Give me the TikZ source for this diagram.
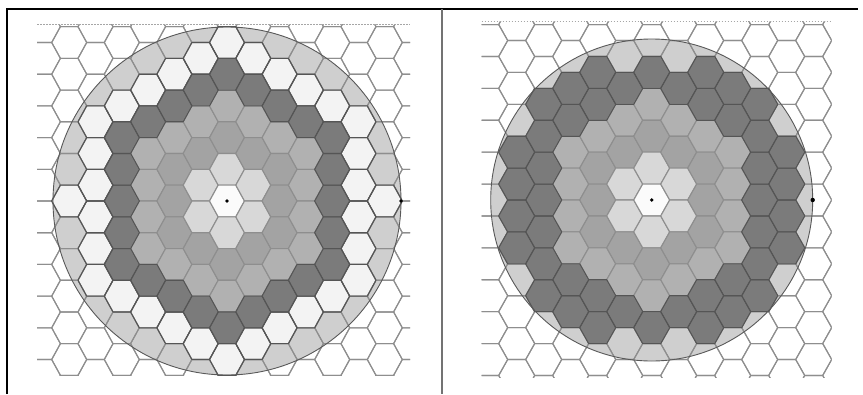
\documentclass[tikz,border=0pt]{standalone}
\usetikzlibrary{calc}
\definecolor{cz}{HTML}{FBFBFB}
\definecolor{cw}{HTML}{F3F3F3}
\definecolor{ca}{HTML}{D8D8D8}
\definecolor{cb}{HTML}{A3A3A3}
\definecolor{cc}{HTML}{B1B1B1}
\definecolor{cd}{HTML}{7B7B7B}
\definecolor{cg}{HTML}{CFCFCF}
\definecolor{hl}{HTML}{8E8E8E}
\definecolor{hd}{HTML}{555555}
\tikzset{
 hexline/.style={draw=hl, line width=1.1pt, line join=round},
 darkline/.style={draw=hd, line width=1.1pt, line join=round},
 circfill/.style={fill=cg},
 circline/.style={draw=black!65, line width=0.9pt},
 dotmark/.style={fill=black},
 topdots/.style={draw=black!35, line width=0.8pt, dash pattern=on 1.5pt off 1.5pt},
 frameline/.style={draw=black, line width=1.3pt},
 divline/.style={draw=black!55, line width=1.8pt},
}
\newcommand\hexshape[3]{\path[#1,shift={(#2,#3)}] (\HA,0) -- (\HB,-\HH) -- (-\HB,-\HH) -- (-\HA,0) -- (-\HB,\HH) -- (\HB,\HH) -- cycle;}
\newcommand\hexclass{%
  \pgfmathsetmacro\m{\j+0.5*mod(abs(\q),2)}%
  \pgfmathsetmacro\X{\q*\CC}%
  \pgfmathsetmacro\Y{\m*\HT}%
  \pgfmathtruncatemacro\di{round((abs(\q)+abs(\m-\q/2)+abs(\m+\q/2))/2)}%
  \pgfmathsetmacro\md{100*max(sqrt(((abs(\X)+\HA)/100)^2+(\Y/100)^2),sqrt(((abs(\X)+\HB)/100)^2+((abs(\Y)+\HH)/100)^2))}%
  \pgfmathtruncatemacro\ins{(\md<=\RR+1.5)?1:0}%
}
\newcommand\drawpanel[1]{%
 \begin{scope}
 \clip (\XL,\YT) rectangle (\XR,\YB);
 \fill[circfill] (\CX,\CY) circle (\RR);
 \foreach \q in {-8,...,8}{
  \foreach \j in {-7,...,7}{
   \hexclass
   \ifnum\ins=1
     \ifcase\di \def\hf{cz}\or\def\hf{ca}\or\def\hf{cb}\or\def\hf{cc}\or\def\hf{cd}\else\def\hf{#1}\fi
   \else\def\hf{none}\fi
   \hexshape{fill=\hf,hexline}{\X+\CX}{\Y+\CY}
  }}
 \foreach \q in {-8,...,8}{
  \foreach \j in {-7,...,7}{
   \hexclass
   \def\hf{0}%
   \ifnum\ins=1 \ifnum\di>3 \def\hf{1}\fi\fi
   \if\hf1 \ifnum\di>4 \if#1cw\def\hf{0}\fi\fi\fi
   \if\hf1 \hexshape{darkline}{\X+\CX}{\Y+\CY}\fi
  }}
 \end{scope}
 \draw[circline] (\CX,\CY) circle (\RR);
 \draw[topdots] (\XL,\YT) -- (\XR,\YT);
}
\begin{document}
\begin{tikzpicture}[x=1pt,y=-1pt]
\useasboundingbox (0,0) rectangle (863,394);
% left panel
\def\CX{227}\def\CY{201}\def\CC{26.3}\def\HA{17.5}\def\HB{8.8}\def\HT{31.7}\def\HH{15.85}\def\RR{174}
\def\XL{37}\def\XR{410}\def\YT{24}\def\YB{375}
\drawpanel{cw}
\coordinate (lc) at (227,201);
\coordinate (le) at (401,201);
\fill[dotmark] (lc) circle (1.8);
\fill[dotmark] (le) circle (1.8);
% right panel
\def\CX{651.7}\def\CY{200}\def\CC{27}\def\HA{18}\def\HB{9}\def\HT{31.9}\def\HH{15.95}\def\RR{161}
\def\XL{481.7}\def\XR{831.7}\def\YT{21.3}\def\YB{377}
\drawpanel{cd}
\coordinate (rc) at (651.7,200);
\coordinate (re) at (812.7,200);
\fill[dotmark] (rc) circle (1.8);
\fill[dotmark] (re) circle (2.2);
% frame
\coordinate (f1) at (7,394);
\coordinate (f2) at (7,9);
\coordinate (f3) at (858,9);
\coordinate (d1) at (442,9);
\coordinate (d2) at (442,394);
\draw[frameline] (f1) -- (f2) -- (f3);
\draw[divline] (d1) -- (d2);
\end{tikzpicture}
\end{document}
